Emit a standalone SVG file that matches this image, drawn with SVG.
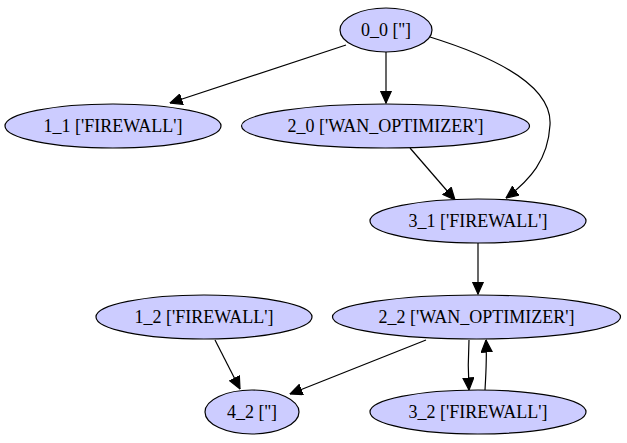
<svg xmlns="http://www.w3.org/2000/svg" width="627" height="443" viewBox="0 0 627 443">
  <defs>
    <marker id="arrow" viewBox="0 0 10 10" refX="10" refY="5" markerWidth="13" markerHeight="12" markerUnits="userSpaceOnUse" orient="auto">
      <path d="M0,0.5 L10,5 L0,9.5 z" fill="#000" stroke="#000"/>
    </marker>
  </defs>
  <style>
    .node ellipse { fill: #ccccff; stroke: #000; stroke-width: 1.2; }
    .node text { font-family: "Liberation Serif", "Times New Roman", serif; font-size: 18px; fill: #000; text-anchor: middle; }
    .edges path { fill: none; stroke: #000; stroke-width: 1.2; marker-end: url(#arrow); }
  </style>
  <rect width="627" height="443" fill="#fff"/>

  <g class="edges">
    <path d="M346,45 L170,103"/>
    <path d="M386,52 L386,103"/>
    <path d="M430,37 C520,65 552,95 550,125 C548,160 530,180 506,198"/>
    <path d="M410,148 L455,200"/>
    <path d="M478,243 L478,294"/>
    <path d="M215,340 L240,389"/>
    <path d="M426,340 L290,394"/>
    <path d="M469,340 C468,357 468,372 469,390"/>
    <path d="M485,390 C486,373 487,357 486,340"/>
  </g>

  <g id="n0_0" class="node">
    <ellipse cx="386" cy="30" rx="46" ry="22"/>
    <text x="386" y="36">0_0 ['']</text>
  </g>
  <g id="n1_1" class="node">
    <ellipse cx="113" cy="126" rx="108" ry="22"/>
    <text x="113" y="132">1_1 ['FIREWALL']</text>
  </g>
  <g id="n2_0" class="node">
    <ellipse cx="385.5" cy="126" rx="144" ry="22"/>
    <text x="385.5" y="132">2_0 ['WAN_OPTIMIZER']</text>
  </g>
  <g id="n3_1" class="node">
    <ellipse cx="478" cy="221" rx="108" ry="22"/>
    <text x="478" y="227">3_1 ['FIREWALL']</text>
  </g>
  <g id="n1_2" class="node">
    <ellipse cx="204" cy="317" rx="108" ry="22"/>
    <text x="204" y="323">1_2 ['FIREWALL']</text>
  </g>
  <g id="n2_2" class="node">
    <ellipse cx="476.5" cy="317" rx="144" ry="22"/>
    <text x="476.5" y="323">2_2 ['WAN_OPTIMIZER']</text>
  </g>
  <g id="n4_2" class="node">
    <ellipse cx="252" cy="412" rx="47" ry="22"/>
    <text x="252" y="418">4_2 ['']</text>
  </g>
  <g id="n3_2" class="node">
    <ellipse cx="478" cy="412" rx="108" ry="22"/>
    <text x="478" y="418">3_2 ['FIREWALL']</text>
  </g>
</svg>
